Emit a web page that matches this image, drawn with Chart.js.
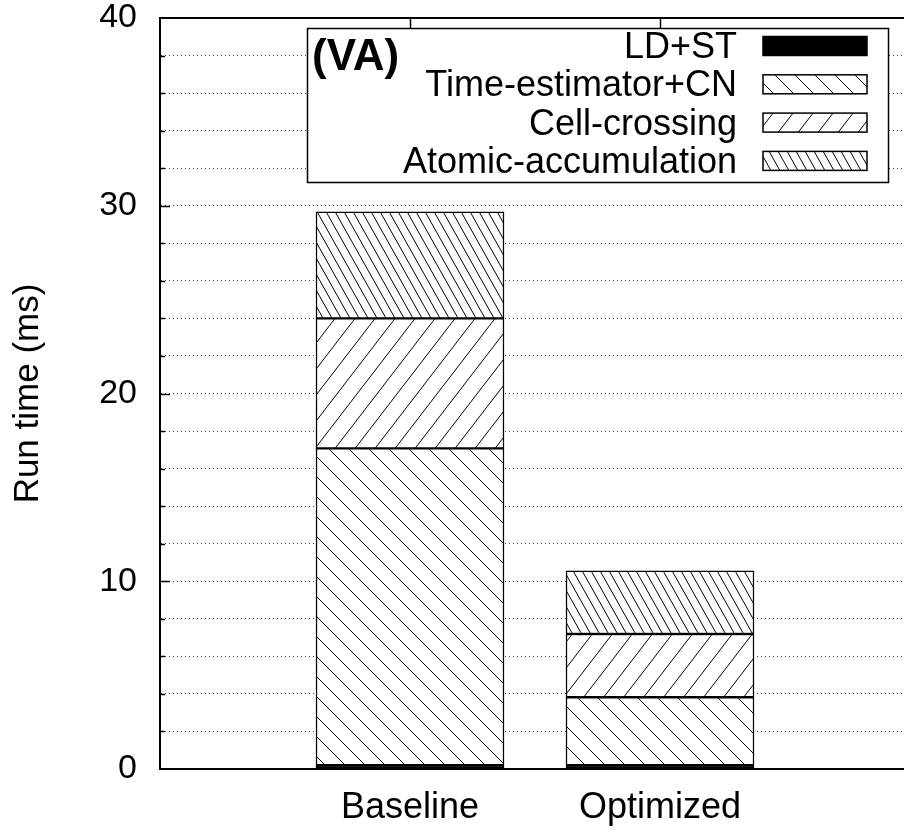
<!DOCTYPE html>
<html><head><meta charset="utf-8">
<script src="https://cdn.jsdelivr.net/npm/chart.js@4/dist/chart.umd.min.js"></script>
<style>
html,body{margin:0;padding:0;overflow:hidden;background:#fff;width:904px;height:834px}
#wrap{position:absolute;left:0;top:0;width:930px;height:834px}
</style>
</head><body><div id="wrap"><canvas id="c" width="930" height="834"></canvas></div>
<script>
// ---- data ----
const categories = ['Baseline', 'Optimized'];
const seriesNames = ['LD+ST', 'Time-estimator+CN', 'Cell-crossing', 'Atomic-accumulation'];
const ldSt = [0.2, 0.2];
const timeEstimatorCn = [16.88, 3.62];
const cellCrossing = [6.92, 3.37];
const atomicAccumulation = [5.68, 3.37];
const yMajorTicks = [0, 10, 20, 30, 40];
const panelTag = '(VA)';
const yTitle = 'Run time (ms)';

const FONT = '"Liberation Sans", Arial, Helvetica, sans-serif';
const canvas = document.getElementById('c');
const mainCtx = canvas.getContext('2d');

function hatch(w, h, dir) {
  const c = document.createElement('canvas');
  c.width = w; c.height = h;
  const g = c.getContext('2d');
  g.fillStyle = '#fff'; g.fillRect(0, 0, w, h);
  g.strokeStyle = '#000'; g.lineWidth = 1;
  g.beginPath();
  for (let k = -1; k <= 1; k++) {
    if (dir === '\\') { g.moveTo(k * w, 0); g.lineTo(k * w + w, h); }
    else { g.moveTo(k * w, h); g.lineTo(k * w + w, 0); }
  }
  g.stroke();
  return mainCtx.createPattern(c, 'repeat');
}

const fills = ['#000', hatch(20, 20, '\\'), hatch(20, 26, '/'), hatch(9, 16, '\\')];
const seriesData = [ldSt, timeEstimatorCn, cellCrossing, atomicAccumulation];

const labels = ['', ...categories, ''];
const datasets = seriesNames.map((n, i) => ({
  label: n,
  data: [null, ...seriesData[i], null],
  backgroundColor: fills[i],
  borderColor: '#000',
  borderWidth: 1.5,
  barThickness: 188,
  borderSkipped: false
}));

const framePlugin = {
  id: 'frame',
  afterDraw(chart) {
    const ctx = chart.ctx;
    const a = chart.chartArea;
    const ys = chart.scales.y, xs = chart.scales.x;
    ctx.save();
    ctx.strokeStyle = '#000';
    // top border
    ctx.lineWidth = 2;
    ctx.beginPath(); ctx.moveTo(a.left - 1, a.top); ctx.lineTo(a.right, a.top); ctx.stroke();
    // y ticks (inward)
    ctx.lineWidth = 1.5;
    for (let v = ys.min + 2; v < ys.max; v += 2) {
      const y = Math.round(ys.getPixelForValue(v)) + 0.5;
      const len = yMajorTicks.includes(v) ? 10 : 5;
      ctx.beginPath(); ctx.moveTo(a.left, y); ctx.lineTo(a.left + len, y); ctx.stroke();
    }
    // top x ticks
    categories.forEach((c, i) => {
      const x = Math.round(xs.getPixelForValue(i + 1)) + 0.5;
      ctx.beginPath(); ctx.moveTo(x, a.top); ctx.lineTo(x, a.top + 10); ctx.stroke();
    });
    // legend
    const bx = 307.5, by = 28.5, bw = 581, bh = 154;
    ctx.fillStyle = '#fff';
    ctx.fillRect(bx, by, bw, bh);
    ctx.lineWidth = 1.5;
    ctx.strokeRect(bx, by, bw, bh);
    ctx.fillStyle = '#000';
    ctx.font = 'bold 44px ' + FONT;
    ctx.textAlign = 'left'; ctx.textBaseline = 'alphabetic';
    ctx.fillText(panelTag, 312, 70);
    ctx.font = '36px ' + FONT;
    ctx.textAlign = 'right';
    chart.data.datasets.forEach((ds, i) => {
      const cy = 46 + i * 38.3;
      ctx.fillStyle = '#000';
      ctx.fillText(ds.label, 737, cy + 12);
      ctx.fillStyle = ds.backgroundColor;
      ctx.fillRect(763, cy - 9.5, 104, 19);
      ctx.strokeRect(763, cy - 9.5, 104, 19);
    });
    ctx.restore();
  }
};

new Chart(canvas, {
  type: 'bar',
  data: { labels, datasets },
  options: {
    responsive: false,
    animation: false,
    layout: { padding: { left: 0, top: 18, right: 20, bottom: 0 } },
    plugins: { legend: { display: false }, tooltip: { enabled: false } },
    scales: {
      x: {
        stacked: true,
        offset: false,
        grid: { display: false, drawTicks: false },
        border: { display: true, color: '#000', width: 2 },
        ticks: { autoSkip: false, maxRotation: 0, padding: 17, color: '#000',
                 font: { family: FONT, size: 36, lineHeight: 1.2 } },
        afterFit(s) { s.height = 65; }
      },
      y: {
        stacked: true,
        min: 0, max: 40,
        grid: { color: '#444', lineWidth: 1, drawTicks: true, tickLength: 23,
                tickColor: 'rgba(0,0,0,0)' },
        border: { display: true, color: '#000', width: 2, dash: [1, 3] },
        ticks: { stepSize: 2, autoSkip: false, padding: 0, color: '#000',
                 font: { family: FONT, size: 34, lineHeight: 1 },
                 callback: (v) => yMajorTicks.includes(v) ? String(v) : '' },
        title: { display: true, text: yTitle, color: '#000',
                 font: { family: FONT, size: 35, lineHeight: 1.2 },
                 padding: { top: 7, bottom: 0 } },
        afterFit(s) { s.width = 160; }
      }
    }
  },
  plugins: [framePlugin]
});
</script>
</body></html>
